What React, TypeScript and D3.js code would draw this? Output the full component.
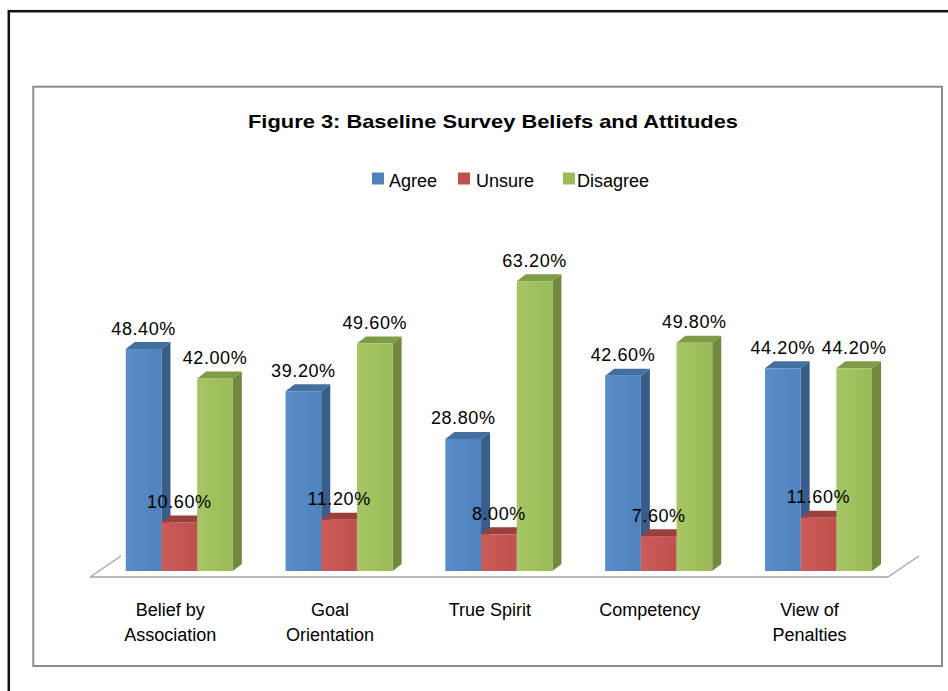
import React from "react";
import * as d3 from "d3";

const categories = [
  ["Belief by", "Association"],
  ["Goal", "Orientation"],
  ["True Spirit"],
  ["Competency"],
  ["View of", "Penalties"],
];
const seriesNames = ["Agree", "Unsure", "Disagree"];
const agree = [48.4, 39.2, 28.8, 42.6, 44.2];
const unsure = [10.6, 11.2, 8.0, 7.6, 11.6];
const disagree = [42.0, 49.6, 63.2, 49.8, 44.2];
const seriesValues = [agree, unsure, disagree];
const titleText = "Figure 3: Baseline Survey Beliefs and Attitudes";

const palette = [
  { front: "#4F81BD", light: "#5B8DC9", side: "#385D8A", top: "#44709F" },
  { front: "#C0504D", light: "#CA5C59", side: "#8C3836", top: "#9B3F3C" },
  { front: "#9BBB59", light: "#A6C665", side: "#71893F", top: "#7F9B48" },
];

const FONT = "'Liberation Sans', Arial, sans-serif";

export default function App() {
  const W = 948;
  const H = 691;
  const floorY = 571;
  const dx = 9;
  const dy = 7;

  const catKeys = categories.map((c) => c.join(" "));
  const x = d3
    .scaleBand<string>()
    .domain(catKeys)
    .range([99.4, 898.4])
    .paddingInner(0.33)
    .paddingOuter(0.165);
  const xs = d3
    .scaleBand<string>()
    .domain(seriesNames)
    .range([0, x.bandwidth()])
    .padding(0);
  const y = d3.scaleLinear().domain([0, 70]).range([floorY, 250]);
  const fmt = (v: number) => d3.format(".2f")(v) + "%";

  const legendItems = [
    { name: "Agree", sx: 372, tx: 389 },
    { name: "Unsure", sx: 458, tx: 476 },
    { name: "Disagree", sx: 563, tx: 577 },
  ];

  return (
    <svg
      width={W}
      height={H}
      style={{ position: "absolute", left: 0, top: 0, background: "#fff" }}
      fontFamily={FONT}
    >
      <defs>
        {palette.map((p, i) => (
          <linearGradient key={i} id={`g${i}`} x1="0" x2="1" y1="0" y2="0">
            <stop offset="0" stopColor={p.light} />
            <stop offset="1" stopColor={p.front} />
          </linearGradient>
        ))}
      </defs>
      <rect x={0} y={0} width={W} height={H} fill="#fff" />
      {/* outer black frame */}
      <rect x={8.8} y={11.2} width={1200} height={1200} fill="none" stroke="#111" strokeWidth={2.5} />
      {/* inner gray chart border */}
      <rect x={33.3} y={86.7} width={908.7} height={579.3} fill="none" stroke="#8C8C8C" strokeWidth={2} />

      {/* title */}
      <text
        x={493}
        y={127.5}
        textAnchor="middle"
        fontSize={19}
        fontWeight="bold"
        fill="#000"
        textLength={490}
        lengthAdjust="spacingAndGlyphs"
      >
        {titleText}
      </text>

      {/* legend */}
      {legendItems.map((l, i) => (
        <g key={l.name}>
          <rect x={l.sx} y={172.5} width={12} height={12} fill={palette[i].front} />
          <text x={l.tx} y={186.5} fontSize={18} fill="#000">
            {l.name}
          </text>
        </g>
      ))}

      {/* floor */}
      <g stroke="#A6A6A6" strokeWidth={1.5} fill="none">
        <line x1={90} y1={577} x2={888} y2={577} />
        <line x1={90} y1={577} x2={121} y2={556} />
        <line x1={888} y1={577} x2={919} y2={556} />
      </g>

      {/* bars */}
      {catKeys.map((ck, ci) => (
        <g key={ck}>
          {seriesNames.map((s, si) => {
            const v = seriesValues[si][ci];
            const x0 = (x(ck) as number) + (xs(s) as number);
            const w = xs.bandwidth();
            const yt = y(v);
            const yb = y(0);
            const p = palette[si];
            const side = `${x0 + w},${yt} ${x0 + w + dx},${yt - dy} ${x0 + w + dx},${yb - dy} ${x0 + w},${yb}`;
            const top = `${x0},${yt} ${x0 + dx},${yt - dy} ${x0 + w + dx},${yt - dy} ${x0 + w},${yt}`;
            return (
              <g key={s}>
                <polygon points={side} fill={p.side} />
                <polygon points={top} fill={p.top} />
                <rect x={x0} y={yt} width={w} height={yb - yt} fill={`url(#g${si})`} />
              </g>
            );
          })}
        </g>
      ))}

      {/* value labels */}
      {catKeys.map((ck, ci) =>
        seriesNames.map((s, si) => {
          const v = seriesValues[si][ci];
          const cx = (x(ck) as number) + (xs(s) as number) + xs.bandwidth() / 2;
          return (
            <text
              key={ck + s}
              x={cx}
              y={y(v) - 14.5}
              textAnchor="middle"
              fontSize={18}
              letterSpacing={0.6}
              fill="#000"
            >
              {fmt(v)}
            </text>
          );
        })
      )}

      {/* category labels */}
      {categories.map((lines, ci) => {
        const cx = (x(catKeys[ci]) as number) + x.bandwidth() / 2 - 9;
        return (
          <text key={catKeys[ci]} x={cx} y={616} textAnchor="middle" fontSize={18} fill="#000">
            {lines.map((ln, li) => (
              <tspan key={li} x={cx} dy={li === 0 ? 0 : 24.5}>
                {ln}
              </tspan>
            ))}
          </text>
        );
      })}
    </svg>
  );
}
